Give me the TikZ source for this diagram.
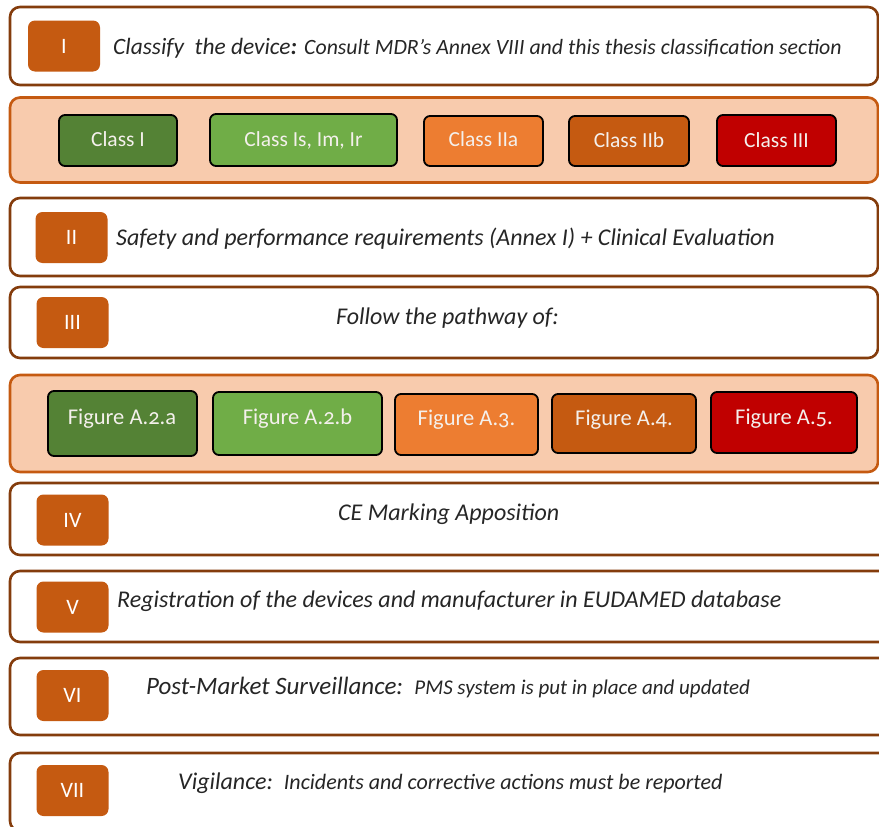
\documentclass[tikz,border=0pt]{standalone}
\usepackage{fontspec}
\setmainfont{Carlito}
\definecolor{framebrown}{HTML}{843C0C}
\definecolor{rust}{HTML}{C55A11}
\definecolor{peach}{HTML}{F8CBAD}
\definecolor{darkgreen}{HTML}{548235}
\definecolor{lightgreen}{HTML}{70AD47}
\definecolor{orangec}{HTML}{ED7D31}
\definecolor{redc}{HTML}{C00000}
\definecolor{inkgray}{HTML}{262626}
\definecolor{paletext}{HTML}{F4F0EC}
\newcommand{\fsz}[1]{\fontsize{#1}{#1}\selectfont}
\begin{document}
\begin{tikzpicture}[x=1pt,y=-1pt,
  stepframe/.style={draw=framebrown, line width=2.6pt, rounded corners=10pt, fill=white, inner sep=0pt},
  groupframe/.style={draw=rust, line width=2.6pt, rounded corners=10pt, fill=peach, inner sep=0pt},
  badge/.style={fill=rust, rounded corners=7pt, minimum width=72pt, minimum height=51pt, inner sep=0pt,
    text=white, font=\fsz{22}},
  colbox/.style={draw=black, line width=1.8pt, rounded corners=6pt, inner sep=0pt},
  collabel/.style={text=paletext, inner sep=0pt, anchor=base, font=\fsz{21.5}},
  figlabel/.style={collabel, font=\fsz{22.5}\addfontfeatures{Numbers=OldStyle}},
  steptext/.style={text=inkgray, inner sep=0pt, anchor=base west, font=\fsz{24}\itshape},
]
\useasboundingbox (0,0) rectangle (879,827);
\clip (0,0) rectangle (879,827);

% Step I: classification
\node[stepframe, minimum width=868pt, minimum height=78pt] (s1) at (444,46) {};
\node[badge] (b1) at (64,46) {I};
\node[steptext] (t1) at (113,54) {\fsz{23.4}Classify\ \ the device\textbf{:} {\fsz{21.8}Consult MDR’s Annex VIII and this thesis classification section}};

% Device classes
\node[groupframe, minimum width=868pt, minimum height=85pt] (g1) at (444,140) {};
\node[colbox, fill=darkgreen, minimum width=118pt, minimum height=51pt] (c1) at (118,140.5) {};
\node[colbox, fill=lightgreen, minimum width=187pt, minimum height=52pt] (c2) at (303.5,140) {};
\node[colbox, fill=orangec, minimum width=119pt, minimum height=50pt] (c3) at (483.5,141) {};
\node[colbox, fill=rust, minimum width=120pt, minimum height=50pt] (c4) at (629,141) {};
\node[colbox, fill=redc, minimum width=119pt, minimum height=51pt] (c5) at (776.5,140.5) {};
\node[collabel] (c1t) at (118,146) {Class I};
\node[collabel] (c2t) at (303.5,146) {Class Is, Im, Ir};
\node[collabel] (c3t) at (483.5,146) {Class IIa};
\node[collabel] (c4t) at (629,147) {Class IIb};
\node[collabel] (c5t) at (776.5,147) {Class III};

% Step II
\node[stepframe, minimum width=868pt, minimum height=78pt] (s2) at (444,237) {};
\node[badge] (b2) at (71.5,237.5) {II};
\node[steptext] (t2) at (116,245) {Safety and performance requirements (Annex I) + Clinical Evaluation};

% Step III
\node[stepframe, minimum width=868pt, minimum height=71pt] (s3) at (444,322.5) {};
\node[badge] (b3) at (72.5,322.5) {III};
\node[steptext] (t3) at (336,324) {Follow the pathway of:};

% Pathway figures
\node[groupframe, minimum width=868pt, minimum height=97pt] (g2) at (444,423.5) {};
\node[colbox, fill=darkgreen, minimum width=149pt, minimum height=65pt] (f1) at (122.5,423.5) {};
\node[colbox, fill=lightgreen, minimum width=169pt, minimum height=63pt] (f2) at (297.5,423.5) {};
\node[colbox, fill=orangec, minimum width=143pt, minimum height=61pt] (f3) at (466.5,424.5) {};
\node[colbox, fill=rust, minimum width=144pt, minimum height=59pt] (f4) at (624,423.5) {};
\node[colbox, fill=redc, minimum width=146pt, minimum height=61pt] (f5) at (784,422.5) {};
\node[figlabel] (f1t) at (122,424) {Figure A.2.a};
\node[figlabel] (f2t) at (297.5,424) {Figure A.2.b};
\node[figlabel] (f3t) at (466.5,425) {Figure A.3.};
\node[figlabel] (f4t) at (624,425) {Figure A.4.};
\node[figlabel] (f5t) at (784,424) {Figure A.5.};

% Step IV
\node[stepframe, minimum width=880pt, minimum height=72pt] (s4) at (450,519) {};
\node[badge] (b4) at (72.5,520) {IV};
\node[steptext] (t4) at (338,520) {CE Marking Apposition};

% Step V
\node[stepframe, minimum width=880pt, minimum height=71pt] (s5) at (450,606.5) {};
\node[badge] (b5) at (72.5,607) {V};
\node[steptext] (t5) at (117,607) {Registration of the devices and manufacturer in EUDAMED database};

% Step VI
\node[stepframe, minimum width=880pt, minimum height=77pt] (s6) at (450,696.5) {};
\node[badge] (b6) at (72.5,695.5) {VI};
\node[steptext] (t6) at (146,694) {\fsz{25}Post-Market Surveillance:\ \ {\fsz{21}PMS system is put in place and updated}};

% Step VII
\node[stepframe, minimum width=880pt, minimum height=78pt] (s7) at (450,792) {};
\node[badge] (b7) at (72.5,790.5) {VII};
\node[steptext] (t7) at (178,789) {Vigilance:\ \ {\fsz{22}Incidents and corrective actions must be reported}};
\end{tikzpicture}
\end{document}
